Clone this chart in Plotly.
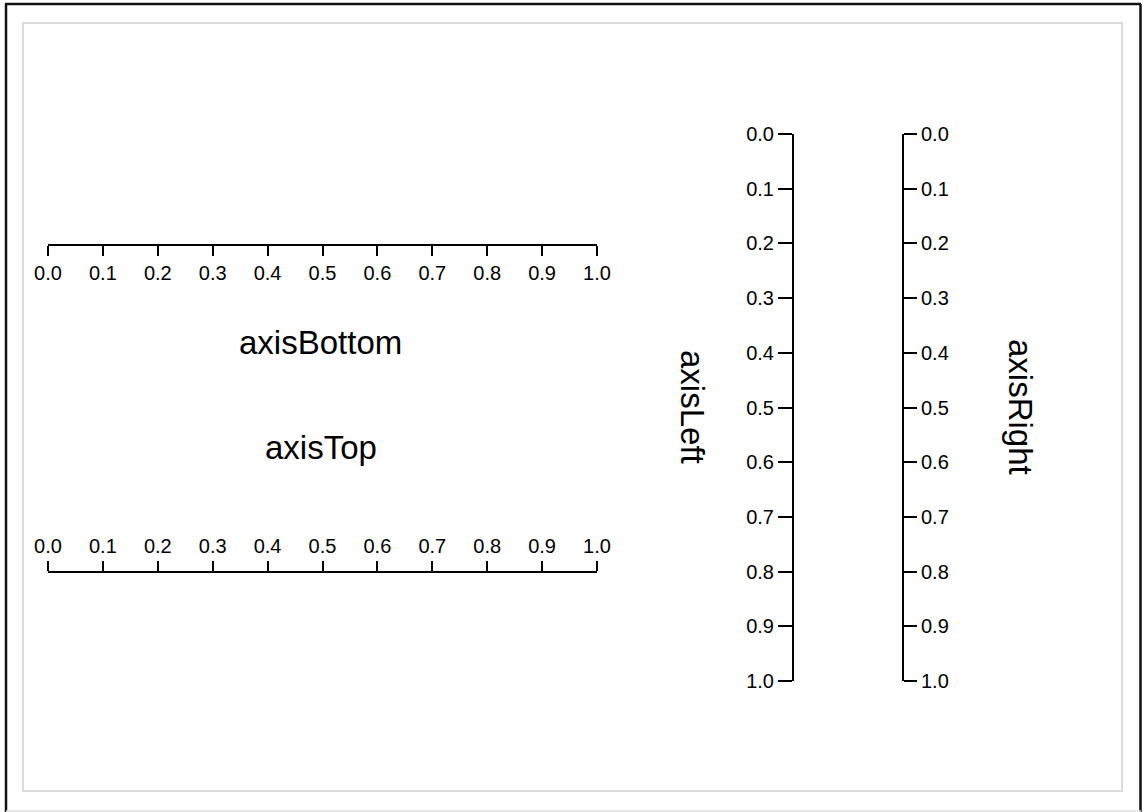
import plotly.graph_objects as go

W, H = 1143, 812

tick_vals = [0.0, 0.1, 0.2, 0.3, 0.4, 0.5, 0.6, 0.7, 0.8, 0.9, 1.0]
tick_text = ["0.0", "0.1", "0.2", "0.3", "0.4", "0.5", "0.6", "0.7", "0.8", "0.9", "1.0"]
axis_range = [0.0, 1.0]
axis_titles = ["axisBottom", "axisTop", "axisLeft", "axisRight"]

FONT = "Liberation Sans, Arial, Helvetica, sans-serif"
TICKFONT = dict(family=FONT, size=20, color="#000")

def px(x):
    return x / W

def py(y):
    return 1 - y / H

fig = go.Figure()
# invisible traces to bind axes
fig.add_trace(go.Scatter(x=axis_range, y=axis_range, mode="markers",
                         marker=dict(opacity=0, size=1), hoverinfo="skip",
                         showlegend=False, xaxis="x", yaxis="y", cliponaxis=True))
fig.add_trace(go.Scatter(x=axis_range, y=axis_range, mode="markers",
                         marker=dict(opacity=0, size=1), hoverinfo="skip",
                         showlegend=False, xaxis="x2", yaxis="y2", cliponaxis=True))

common = dict(range=axis_range, tickmode="array", tickvals=tick_vals, ticktext=tick_text,
              showgrid=False, zeroline=False, showline=True, linecolor="#000",
              linewidth=2, ticks="outside", tickwidth=2, tickcolor="#000",
              tickfont=TICKFONT, fixedrange=True, automargin=False)

xdom = [px(48), px(597)]
ydom = [py(681), py(134)]

fig.update_layout(
    width=W, height=H, autosize=False,
    margin=dict(l=0, r=0, t=0, b=0, pad=0, autoexpand=False),
    paper_bgcolor="#fff", plot_bgcolor="rgba(0,0,0,0)",
    showlegend=False,
    xaxis=dict(**common, domain=xdom, anchor="free", position=py(245),
               side="bottom", ticklen=10),
    xaxis2=dict(**common, domain=xdom, anchor="free", position=py(572),
                side="top", ticklen=10, overlaying="x"),
    yaxis=dict(**{**common, "range": [1.0, 0.0]}, domain=ydom, anchor="free",
               position=px(793), side="left", ticklen=14),
    yaxis2=dict(**{**common, "range": [1.0, 0.0]}, domain=ydom, anchor="free",
                position=px(903), side="right", ticklen=13, overlaying="y"),
)

# axis titles
TFONT = dict(family=FONT, size=33, color="#000")
fig.add_annotation(text=axis_titles[0], x=px(320), y=py(342), xref="paper", yref="paper",
                   showarrow=False, font=TFONT, xanchor="center", yanchor="middle")
fig.add_annotation(text=axis_titles[1], x=px(321), y=py(447), xref="paper", yref="paper",
                   showarrow=False, font=TFONT, xanchor="center", yanchor="middle")
fig.add_annotation(text=axis_titles[2], x=px(693), y=py(407), xref="paper", yref="paper",
                   showarrow=False, font=TFONT, textangle=90, xanchor="center", yanchor="middle")
fig.add_annotation(text=axis_titles[3], x=px(1021), y=py(407), xref="paper", yref="paper",
                   showarrow=False, font=TFONT, textangle=90, xanchor="center", yanchor="middle")

# frame borders
shapes = [
    dict(type="rect", xref="paper", yref="paper", x0=px(23), x1=px(1122), y0=py(791), y1=py(23),
         line=dict(color="#dcdcdc", width=2)),
    dict(type="line", xref="paper", yref="paper", x0=px(6), x1=px(6), y0=py(812), y1=py(4),
         line=dict(color="#111", width=2.5)),
    dict(type="line", xref="paper", yref="paper", x0=px(5), x1=px(1141), y0=py(4), y1=py(4),
         line=dict(color="#111", width=2.5)),
    dict(type="line", xref="paper", yref="paper", x0=px(1140.5), x1=px(1140.5), y0=py(812), y1=py(4),
         line=dict(color="#111", width=2.5)),
    dict(type="line", xref="paper", yref="paper", x0=px(6), x1=px(1141), y0=py(811), y1=py(811),
         line=dict(color="#e0e0e0", width=1.5)),
]
fig.update_layout(shapes=shapes)

fig.write_html("out.html", config={"displayModeBar": False, "responsive": False},
               post_script="document.body.style.margin='0';document.body.style.overflow='hidden';")
